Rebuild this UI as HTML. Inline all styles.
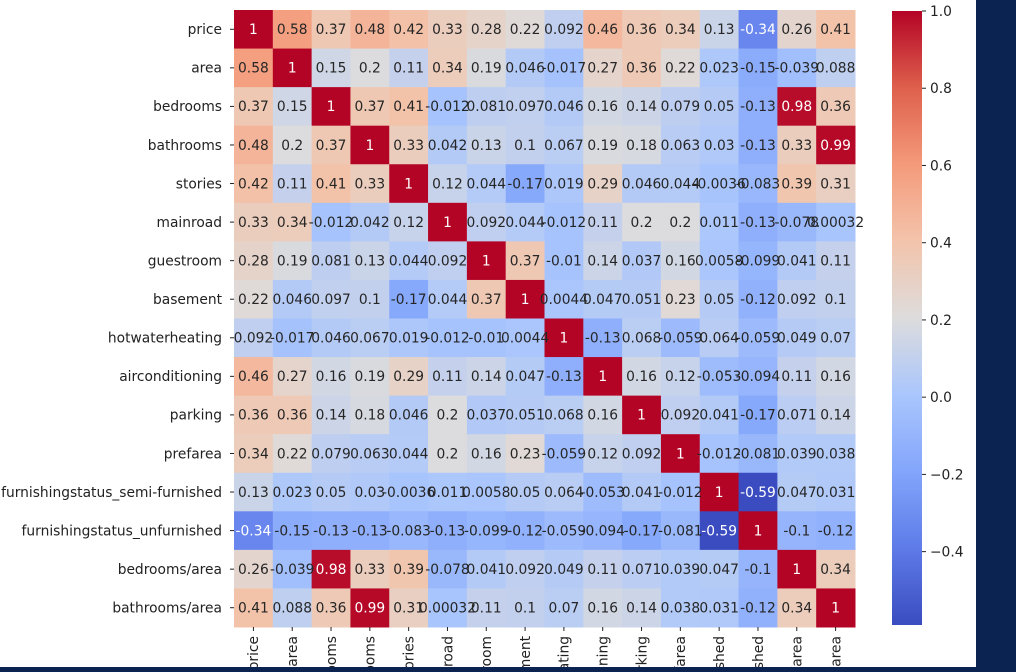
<!DOCTYPE html>
<html><head><meta charset="utf-8"><style>
html,body{margin:0;background:#fff;width:1016px;height:672px;overflow:hidden;position:relative;font-family:"DejaVu Sans","Liberation Sans",sans-serif}
#navy{position:absolute;left:976px;top:0;width:40px;height:672px;background:#0b2350}
#bar{position:absolute;left:0;top:667px;width:1016px;height:5px;background:#0b2350}
svg{overflow:hidden}
</style></head><body>
<svg id="chart" width="1016" height="672" style="position:absolute;left:0;top:0" font-family="DejaVu Sans, Liberation Sans, sans-serif"></svg>
<div id="navy"></div>
<div id="bar"></div>
<script>
const labels=["price","area","bedrooms","bathrooms","stories","mainroad","guestroom","basement","hotwaterheating","airconditioning","parking","prefarea","furnishingstatus_semi-furnished","furnishingstatus_unfurnished","bedrooms/area","bathrooms/area"];
const row0=[1,0.58,0.37,0.48,0.42,0.33,0.28,0.22,0.092,0.46,0.36,0.34,0.13,-0.34,0.26,0.41];
const row1=[0.58,1,0.15,0.2,0.11,0.34,0.19,0.046,-0.017,0.27,0.36,0.22,0.023,-0.15,-0.039,0.088];
const row2=[0.37,0.15,1,0.37,0.41,-0.012,0.081,0.097,0.046,0.16,0.14,0.079,0.05,-0.13,0.98,0.36];
const row3=[0.48,0.2,0.37,1,0.33,0.042,0.13,0.1,0.067,0.19,0.18,0.063,0.03,-0.13,0.33,0.99];
const row4=[0.42,0.11,0.41,0.33,1,0.12,0.044,-0.17,0.019,0.29,0.046,0.044,-0.0036,-0.083,0.39,0.31];
const row5=[0.33,0.34,-0.012,0.042,0.12,1,0.092,0.044,-0.012,0.11,0.2,0.2,0.011,-0.13,-0.078,0.00032];
const row6=[0.28,0.19,0.081,0.13,0.044,0.092,1,0.37,-0.01,0.14,0.037,0.16,0.0058,-0.099,0.041,0.11];
const row7=[0.22,0.046,0.097,0.1,-0.17,0.044,0.37,1,0.0044,0.047,0.051,0.23,0.05,-0.12,0.092,0.1];
const row8=[0.092,-0.017,0.046,0.067,0.019,-0.012,-0.01,0.0044,1,-0.13,0.068,-0.059,0.064,-0.059,0.049,0.07];
const row9=[0.46,0.27,0.16,0.19,0.29,0.11,0.14,0.047,-0.13,1,0.16,0.12,-0.053,-0.094,0.11,0.16];
const row10=[0.36,0.36,0.14,0.18,0.046,0.2,0.037,0.051,0.068,0.16,1,0.092,0.041,-0.17,0.071,0.14];
const row11=[0.34,0.22,0.079,0.063,0.044,0.2,0.16,0.23,-0.059,0.12,0.092,1,-0.012,-0.081,0.039,0.038];
const row12=[0.13,0.023,0.05,0.03,-0.0036,0.011,0.0058,0.05,0.064,-0.053,0.041,-0.012,1,-0.59,0.047,0.031];
const row13=[-0.34,-0.15,-0.13,-0.13,-0.083,-0.13,-0.099,-0.12,-0.059,-0.094,-0.17,-0.081,-0.59,1,-0.1,-0.12];
const row14=[0.26,-0.039,0.98,0.33,0.39,-0.078,0.041,0.092,0.049,0.11,0.071,0.039,0.047,-0.1,1,0.34];
const row15=[0.41,0.088,0.36,0.99,0.31,0.00032,0.11,0.1,0.07,0.16,0.14,0.038,0.031,-0.12,0.34,1];
const matrix=[row0,row1,row2,row3,row4,row5,row6,row7,row8,row9,row10,row11,row12,row13,row14,row15];
const cbTicks=[1.0,0.8,0.6,0.4,0.2,0.0,-0.2,-0.4];
const vmin=Math.min(...matrix.flat()), vmax=1;

const NS="http://www.w3.org/2000/svg", svg=document.getElementById('chart');
function mk(t,a,p){const e=document.createElementNS(NS,t);for(const k in a)e.setAttribute(k,a[k]);(p||svg).appendChild(e);return e;}
const X0=234,Y0=10,W=621,H=617,n=labels.length,cw=W/n,ch=H/n,FS=13.8;
const xs=i=>X0+i*cw, ys=i=>Y0+i*ch;
const stops=[[58,76,192],[94,123,232],[131,165,251],[170,198,253],[221,220,220],[243,196,171],[244,154,123],[222,96,76],[180,4,38]];
function cmap(v){let t=(v-vmin)/(vmax-vmin);t=Math.max(0,Math.min(1,t));const p=t*8,i=Math.min(7,Math.floor(p)),f=p-i;const a=stops[i],b=stops[i+1];return [0,1,2].map(k=>Math.round(a[k]+(b[k]-a[k])*f));}
function fmt(v){return String(+v.toPrecision(2));}
const cells=mk('g',{});


matrix.forEach((row,r)=>row.forEach((v,c)=>{
  const col=cmap(v);
  const rect=mk('rect',{x:xs(c),y:ys(r),width:cw+0.5,height:ch+0.5,fill:`rgb(${col})`},cells);
  
  
}));
matrix.forEach((row,r)=>row.forEach((v,c)=>{
  const white=(v>0.9||v<-0.3);
  const t=mk('text',{x:xs(c)+cw/2,y:ys(r)+ch/2+4.8,'text-anchor':'middle','font-size':FS,fill:white?'#fff':'#262626'});
  t.textContent=fmt(v);
  
  
}));
labels.forEach((l,i)=>{
  const y=ys(i)+ch/2;
  mk('line',{x1:X0-4,x2:X0,y1:y,y2:y,stroke:'#222'});
  const t=mk('text',{x:X0-12,y:y+4.8,'text-anchor':'end','font-size':FS,fill:'#222'});
  t.textContent=l;
  
  
  const x=xs(i)+cw/2;
  mk('line',{x1:x,x2:x,y1:Y0+H,y2:Y0+H+4,stroke:'#222'});
  const tx=mk('text',{x:0,y:0,'text-anchor':'end','font-size':FS,fill:'#222',transform:`translate(${x+4.8},${Y0+H+9}) rotate(-90)`});
  tx.textContent=l;
  
  
});
const CX=892,CW=30,CY0=11,CY1=625;
const cy=v=>CY0+(vmax-v)/(vmax-vmin)*(CY1-CY0);
const defs=mk('defs',{});const g=mk('linearGradient',{id:'cg',x1:0,y1:1,x2:0,y2:0},defs);
for(let k=0;k<=8;k++)mk('stop',{offset:k/8,'stop-color':`rgb(${stops[k]})`},g);
const cb=mk('rect',{x:CX,y:CY0,width:CW,height:CY1-CY0,fill:'url(#cg)'});


cbTicks.forEach(v=>{
  const y=cy(v);
  mk('line',{x1:CX+CW,x2:CX+CW+4,y1:y,y2:y,stroke:'#222'});
  const t=mk('text',{x:CX+CW+8,y:y+5,'font-size':FS,fill:'#222'});
  t.textContent=v<0?'\u2212'+Math.abs(v).toFixed(1):v.toFixed(1);
  
  
});
</script>
</body></html>
